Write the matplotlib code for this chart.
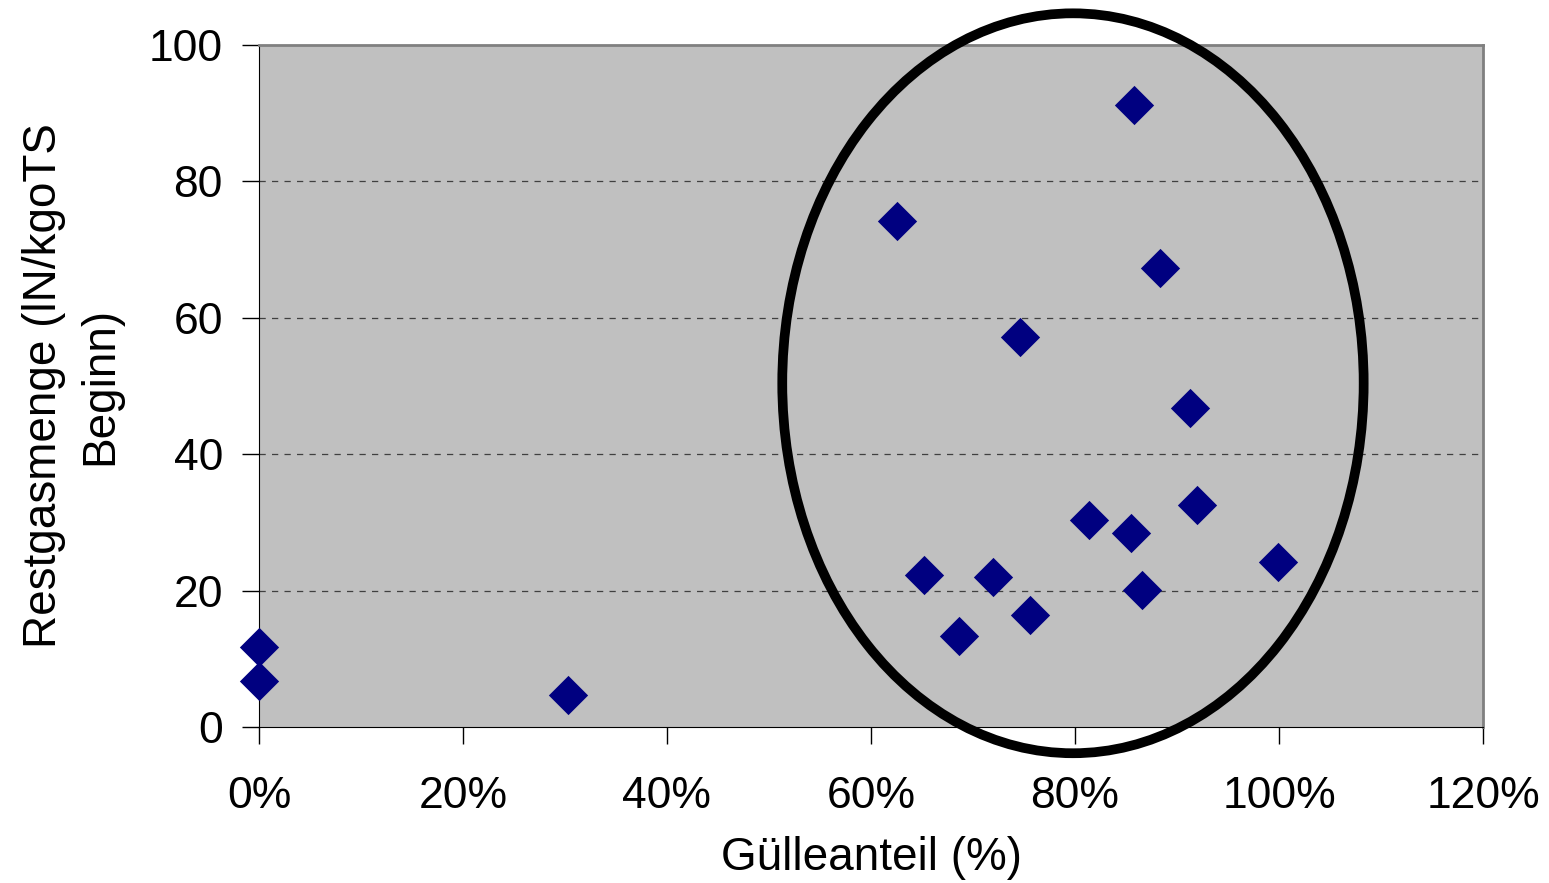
import matplotlib
matplotlib.use("Agg")
import matplotlib.pyplot as plt
from matplotlib.patches import Ellipse
from matplotlib.ticker import FuncFormatter

# Gülleanteil (fraction) and Restgasmenge
guelle_anteil = [0.0, 0.0, 0.303, 0.625, 0.652, 0.686, 0.720, 0.746, 0.756,
                 0.814, 0.855, 0.858, 0.866, 0.883, 0.913, 0.920, 0.999]
restgas = [11.7, 6.7, 4.7, 74.2, 22.3, 13.3, 22.0, 57.2, 16.4,
           30.4, 28.4, 91.2, 20.1, 67.3, 46.8, 32.6, 24.2]

x_ticks = [0.0, 0.2, 0.4, 0.6, 0.8, 1.0, 1.2]
y_ticks = [0, 20, 40, 60, 80, 100]

plt.rcParams['font.family'] = ['Liberation Sans', 'DejaVu Sans']

fig = plt.figure(figsize=(15.49, 8.83), dpi=100)
ax = fig.add_axes([0.1672, 0.1767, 0.7902, 0.7723])
ax.set_facecolor('#C0C0C0')

ax.scatter(guelle_anteil, restgas, marker='D', s=20**2, color='#000080',
           linewidths=0, zorder=3, clip_on=False)

# highlight ellipse around the cluster
ell = Ellipse((0.798, 50.4), 0.57, 108.5, fill=False, edgecolor='black',
              linewidth=7, clip_on=False, zorder=4)
ax.add_patch(ell)

ax.set_xlim(0, 1.2)
ax.set_ylim(0, 100)
ax.set_xticks(x_ticks)
ax.set_yticks(y_ticks)
ax.xaxis.set_major_formatter(FuncFormatter(lambda v, p: f'{v*100:.0f}%'))

for y in y_ticks[1:-1]:
    ax.axhline(y, color='#404040', linestyle=(0, (5, 5)), linewidth=0.9, zorder=1)

ax.spines['top'].set_color('#808080')
ax.spines['right'].set_color('#808080')
ax.spines['top'].set_linewidth(2)
ax.spines['right'].set_linewidth(2)
ax.spines['left'].set_color('black')
ax.spines['bottom'].set_color('black')

ax.tick_params(axis='both', direction='out', length=12, width=1, labelsize=32,
               colors='black')
ax.tick_params(axis='x', pad=23)
ax.tick_params(axis='y', pad=14)

ax.set_xlabel('Gülleanteil (%)', fontsize=33, labelpad=14)
ax.set_ylabel('Restgasmenge (lN/kgoTS\nBeginn)', fontsize=33, labelpad=19,
              linespacing=1.35)

fig.savefig('out.png', dpi=100)
